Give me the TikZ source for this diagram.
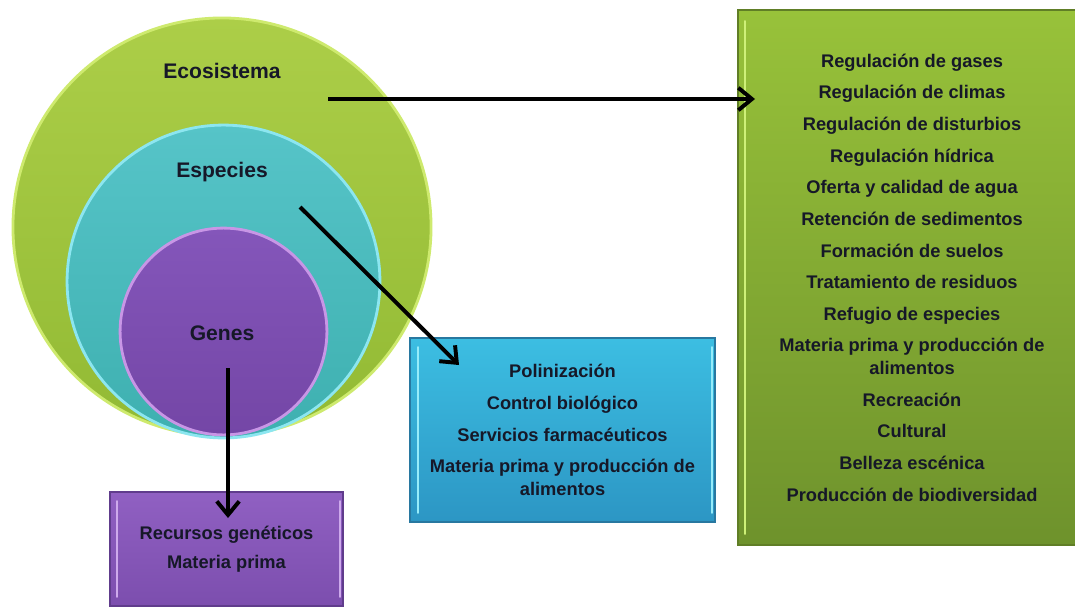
\documentclass[tikz,border=0pt]{standalone}
\usepackage{fontspec}
\setmainfont{Liberation Sans}
\usetikzlibrary{positioning, arrows.meta, calc}

\definecolor{ecotop}{RGB}{172,206,72}
\definecolor{ecobot}{RGB}{146,186,52}
\definecolor{ecorim}{RGB}{206,234,110}
\definecolor{esptop}{RGB}{86,196,200}
\definecolor{espbot}{RGB}{62,176,176}
\definecolor{esprim}{RGB}{140,230,240}
\definecolor{gentop}{RGB}{132,86,186}
\definecolor{genbot}{RGB}{116,70,166}
\definecolor{genrim}{RGB}{200,150,230}
\definecolor{gboxtop}{RGB}{152,194,58}
\definecolor{gboxbot}{RGB}{110,146,44}
\definecolor{gboxedge}{RGB}{96,126,38}
\definecolor{gboxlight}{RGB}{206,240,120}
\definecolor{tboxtop}{RGB}{60,190,226}
\definecolor{tboxbot}{RGB}{44,150,196}
\definecolor{tboxedge}{RGB}{40,120,160}
\definecolor{tboxlight}{RGB}{150,236,250}
\definecolor{pboxtop}{RGB}{144,96,194}
\definecolor{pboxbot}{RGB}{124,78,174}
\definecolor{pboxedge}{RGB}{96,60,140}
\definecolor{pboxlight}{RGB}{206,170,236}
\definecolor{textdark}{RGB}{22,24,40}

\begin{document}
\begin{tikzpicture}[
    x=0.025cm, y=-0.025cm, % one unit = one pixel of the reference
    arrow/.style={
        -{Straight Barb[length=3.4mm, width=5.6mm, line width=2.8pt]},
        line width=2.8pt
    },
    ring/.style={
        circle,
        inner sep=0pt,
        line width=2pt
    },
    title/.style={
        font=\bfseries\fontsize{15}{18}\selectfont,
        text=textdark
    },
    servbox/.style={
        rectangle,
        inner sep=0pt,
        align=center,
        line width=1.2pt,
        font=\bfseries\fontsize{13}{16}\selectfont,
        text=textdark
    },
    bevel/.style={
        line width=1.6pt,
        line cap=round
    }
]
    \clip (0,0) rectangle (1075,606);
    \fill[white] (0,0) rectangle (1075,606);

    % Nested circles
    \node[ring, draw=ecorim, top color=ecotop, bottom color=ecobot, minimum size=10.45cm] (eco) at (222,227) {};
    \node[ring, draw=esprim, top color=esptop, bottom color=espbot, minimum size=7.82cm] (esp) at (223.5,281.5) {};
    \node[ring, draw=genrim, top color=gentop, bottom color=genbot, minimum size=5.17cm] (gen) at (223.5,331.5) {};

    \node[title] (ecolabel) at (222,71) {Ecosistema};
    \node[title] (esplabel) at (222,172) {Especies};
    \node[title] (genlabel) at (222,333) {Genes};

    % Service boxes
    \node[servbox, draw=gboxedge, top color=gboxtop, bottom color=gboxbot,
          minimum width=8.7cm, minimum height=13.375cm] (ecobox) at (912,277.5) {%
        Regulación de gases\\[6.5pt]
        Regulación de climas\\[6.5pt]
        Regulación de disturbios\\[6.5pt]
        Regulación hídrica\\[6.5pt]
        Oferta y calidad de agua\\[6.5pt]
        Retención de sedimentos\\[6.5pt]
        Formación de suelos\\[6.5pt]
        Tratamiento de residuos\\[6.5pt]
        Refugio de especies\\[6.5pt]
        Materia prima y producción de\\
        alimentos\\[6.5pt]
        Recreación\\[6.5pt]
        Cultural\\[6.5pt]
        Belleza escénica\\[6.5pt]
        Producción de biodiversidad};

    \node[servbox, draw=tboxedge, top color=tboxtop, bottom color=tboxbot,
          minimum width=7.625cm, minimum height=4.6cm] (espbox) at (562.5,430) {%
        Polinización\\[6.5pt]
        Control biológico\\[6.5pt]
        Servicios farmacéuticos\\[6.5pt]
        Materia prima y producción de\\
        alimentos};

    \node[servbox, draw=pboxedge, top color=pboxtop, bottom color=pboxbot,
          minimum width=5.825cm, minimum height=2.85cm] (genbox) at (226.5,549) {%
        Recursos genéticos\\[5pt]
        Materia prima};

    % Light bevel edges of the boxes
    \draw[bevel, gboxlight] ($(ecobox.north west)+(8,12)$) -- ($(ecobox.south west)+(8,-12)$);
    \draw[bevel, tboxlight] ($(espbox.north west)+(9,10)$) -- ($(espbox.south west)+(9,-10)$);
    \draw[bevel, tboxlight] ($(espbox.north east)+(-4,10)$) -- ($(espbox.south east)+(-4,-10)$);
    \draw[bevel, pboxlight] ($(genbox.north west)+(8,10)$) -- ($(genbox.south west)+(8,-10)$);
    \draw[bevel, pboxlight] ($(genbox.north east)+(-4,10)$) -- ($(genbox.south east)+(-4,-10)$);

    % Arrow ends
    \coordinate (eco-out) at (328,99);
    \coordinate (eco-in) at (755,99);
    \coordinate (esp-out) at (300,207);
    \coordinate (esp-in) at (459,365);
    \coordinate (gen-out) at (228,368);
    \coordinate (gen-in) at (228,518);

    \draw[arrow] (eco-out) -- (eco-in);
    \draw[arrow] (esp-out) -- (esp-in);
    \draw[arrow] (gen-out) -- (gen-in);
\end{tikzpicture}
\end{document}
